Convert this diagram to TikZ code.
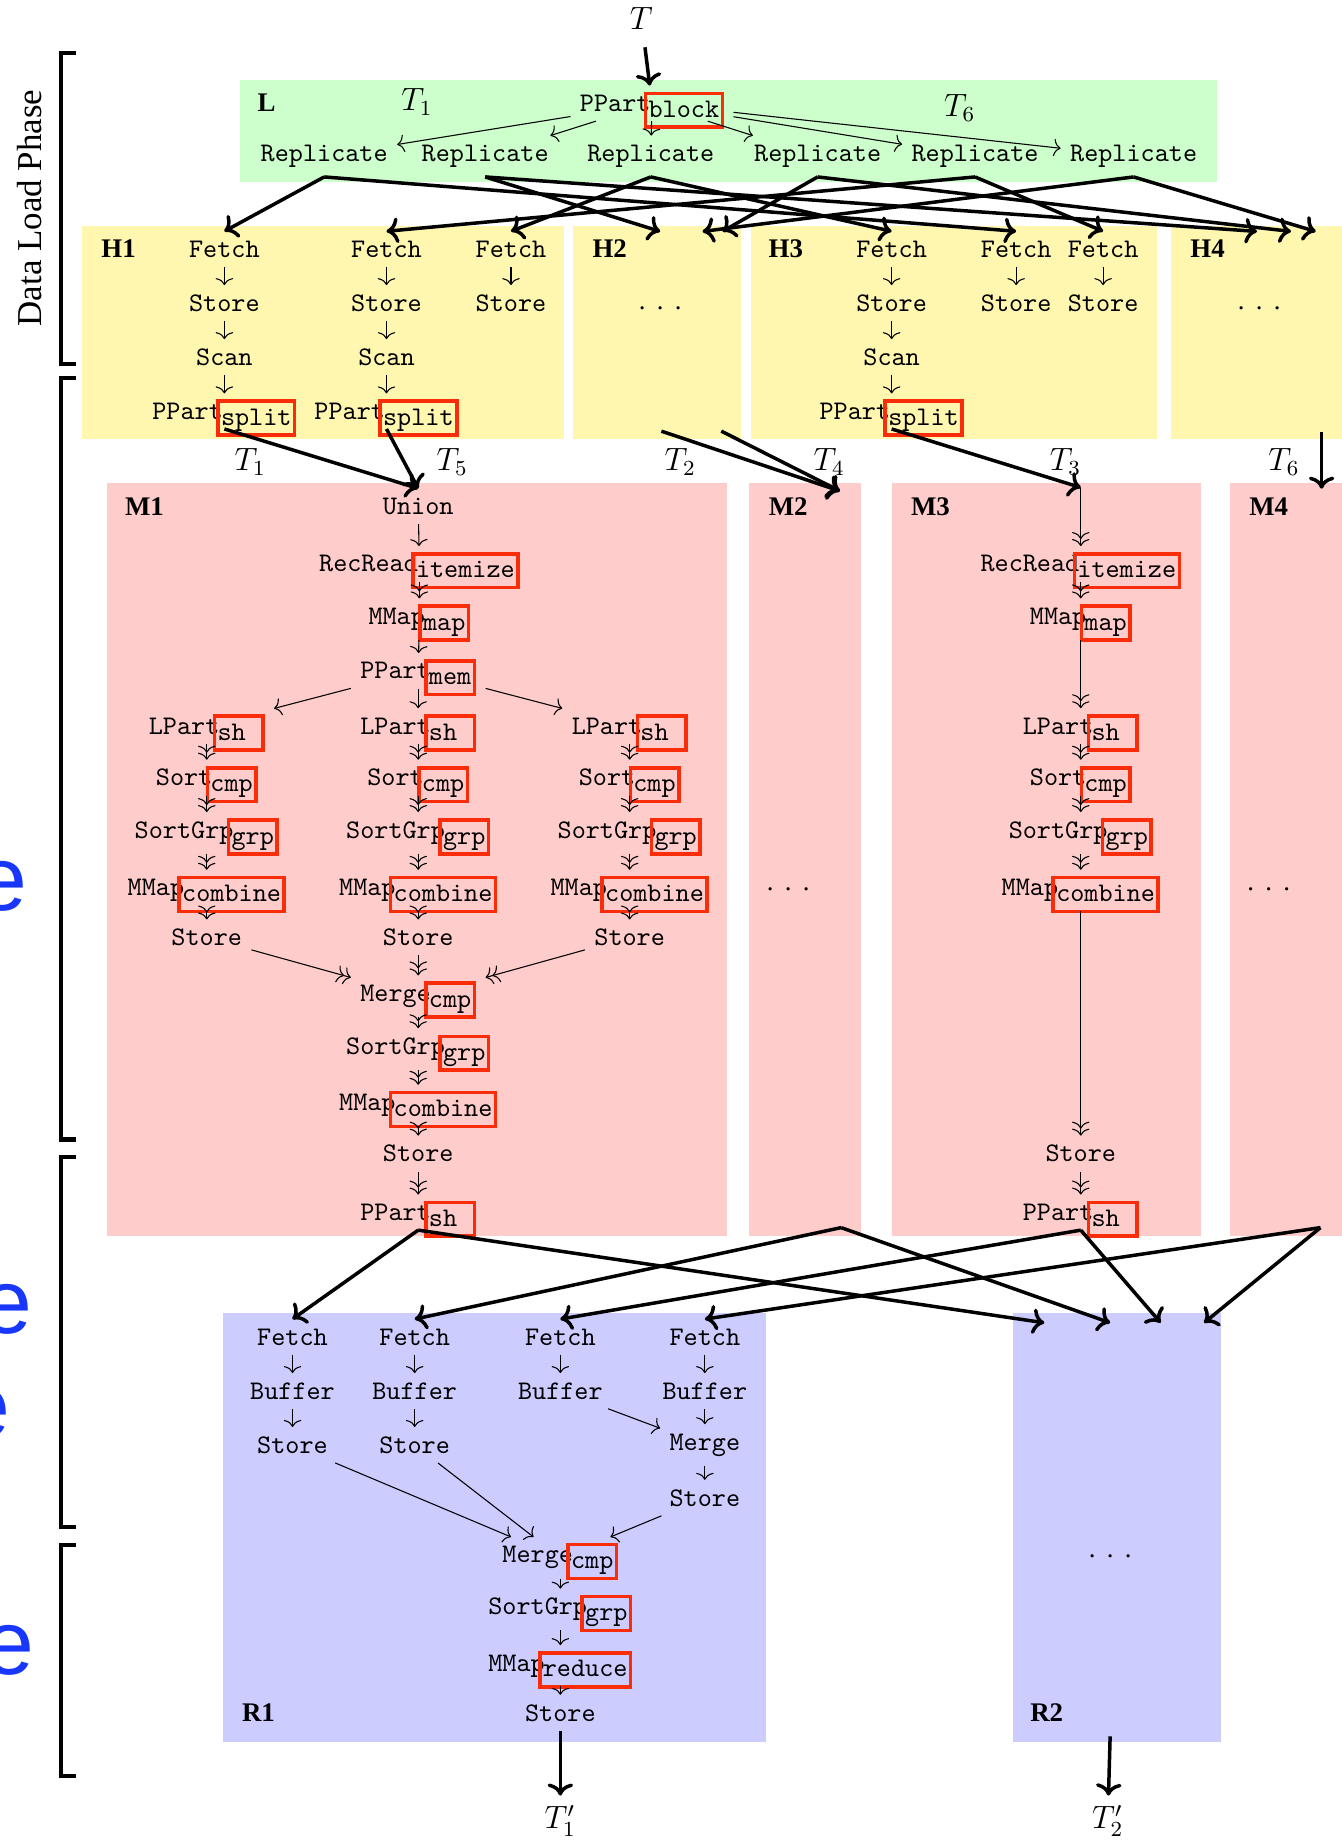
\documentclass[tikz,border=0pt]{standalone}
\usepackage{fontspec}
\setmainfont{Liberation Serif}
\newfontfamily\phasefont{Liberation Sans}
\usepackage{tikz}
\usetikzlibrary{calc,arrows.meta}

\definecolor{udfred}{RGB}{250,45,10}
\definecolor{lgreen}{RGB}{204,255,204}
\definecolor{lyellow}{RGB}{255,247,176}
\definecolor{lpink}{RGB}{255,204,204}
\definecolor{lblue}{RGB}{204,204,255}
\definecolor{phaseblue}{RGB}{25,55,250}

% red frame round a user function, kept out of the node height
\newcommand{\udf}[1]{\kern-2.5pt\smash{\raisebox{-2.2pt}{\textcolor{udfred}{\setlength{\fboxrule}{1.3pt}\setlength{\fboxsep}{0.5pt}\fbox{\textcolor{black}{\rule[-2.5pt]{0pt}{10.3pt}#1}}}}}}
\newcommand{\gap}{.\hspace{4.2pt}.\hspace{4.2pt}.}

\begin{document}
\begin{tikzpicture}[x=0.01537cm,y=-0.01537cm,
        >={To[length=2.6pt,width=6.5pt]},
        op/.style={font=\ttfamily},
        hdr/.style={font=\bfseries},
        tl/.style={font=\large},
        flow/.style={-{To[length=4.5pt,width=9.5pt]},line width=1.3pt},
        phase/.style={line width=1.6pt},
        phasetxt/.style={font=\phasefont\fontsize{34}{36}\selectfont,text=phaseblue,inner sep=0pt,anchor=base east}]
        \useasboundingbox (0,0) rectangle (1142,1568);

        % backgrounds
        \fill[lgreen] (204,68) rectangle (1036,155);
        \fill[lyellow] (70,192) rectangle (480,374);
        \fill[lyellow] (488,192) rectangle (631,374);
        \fill[lyellow] (639,192) rectangle (985,374);
        \fill[lyellow] (997,192) rectangle (1142,374);
        \fill[lpink] (91,411) rectangle (619,1052);
        \fill[lpink] (638,411) rectangle (733,1052);
        \fill[lpink] (759,411) rectangle (1022,1052);
        \fill[lpink] (1047,411) rectangle (1142,1052);
        \fill[lblue] (190,1118) rectangle (652,1483);
        \fill[lblue] (862,1118) rectangle (1039,1483);

        % phases
        \draw[phase] (65,45) -- (52,45) -- (52,310) -- (65,310);
        \draw[phase] (65,322) -- (52,322) -- (52,970) -- (65,970);
        \draw[phase] (65,985) -- (52,985) -- (52,1300) -- (65,1300);
        \draw[phase] (65,1315) -- (52,1315) -- (52,1512) -- (65,1512);
        \node[rotate=90,font=\fontsize{13}{15}\selectfont] (dlp) at (25,177) {Data Load Phase};
        \node[phasetxt] (pe1) at (24,775) {e};
        \node[phasetxt] (pe2) at (28,1135) {e};
        \node[phasetxt] (pe3) at (9,1224) {e};
        \node[phasetxt] (pe4) at (30,1425) {e};

        % L
        \node[hdr] (lL) at (227,87) {L};
        \node[tl] (T) at (546,16) {$T$};
        \node[tl] (tl1) at (355,87) {$T_1$};
        \node[tl] (tl6) at (817,92) {$T_6$};
        \node[op] (lpp) at (555,88) {PPart\udf{block}};
        \node[op] (rep1) at (276,133) {Replicate};
        \node[op] (rep2) at (413,133) {Replicate};
        \node[op] (rep3) at (554,133) {Replicate};
        \node[op] (rep4) at (696,133) {Replicate};
        \node[op] (rep5) at (830,133) {Replicate};
        \node[op] (rep6) at (965,133) {Replicate};
        \draw[flow,shorten <=3pt] (T) -- (lpp);
        \draw[->] (lpp) -- (rep1);
        \draw[->] (lpp) -- (rep2);
        \draw[->] (lpp) -- (rep3);
        \draw[->] (lpp) -- (rep4);
        \draw[->] (lpp) -- (rep5);
        \draw[->] (lpp) -- (rep6);

        % H
        \node[hdr] (lH1) at (101,212) {H1};
        \node[hdr] (lH2) at (519,212) {H2};
        \node[hdr] (lH3) at (669,212) {H3};
        \node[hdr] (lH4) at (1028,212) {H4};
        \node (h2d) at (562,262) {\gap};
        \node (h4d) at (1072,262) {\gap};

        \node[op] (h1f1) at (191,212) {Fetch};
        \node[op] (h1s1) at (191,258) {Store};
        \node[op] (h1c1) at (191,304) {Scan};
        \node[op] (h1p1) at (191,350) {PPart\udf{split}};
        \node[op] (h1f2) at (329,212) {Fetch};
        \node[op] (h1s2) at (329,258) {Store};
        \node[op] (h1c2) at (329,304) {Scan};
        \node[op] (h1p2) at (329,350) {PPart\udf{split}};
        \node[op] (h1f3) at (435,212) {Fetch};
        \node[op] (h1s3) at (435,258) {Store};
        \node[op] (h3f1) at (759,212) {Fetch};
        \node[op] (h3s1) at (759,258) {Store};
        \node[op] (h3c1) at (759,304) {Scan};
        \node[op] (h3p1) at (759,350) {PPart\udf{split}};
        \node[op] (h3f2) at (865,212) {Fetch};
        \node[op] (h3s2) at (865,258) {Store};
        \node[op] (h3f3) at (939,212) {Fetch};
        \node[op] (h3s3) at (939,258) {Store};
        \draw[->] (h1f1) -- (h1s1);
        \draw[->] (h1s1) -- (h1c1);
        \draw[->] (h1c1) -- (h1p1);
        \draw[->] (h1f2) -- (h1s2);
        \draw[->] (h1s2) -- (h1c2);
        \draw[->] (h1c2) -- (h1p2);
        \draw[->] (h1f3) -- (h1s3);
        \draw[->] (h3f1) -- (h3s1);
        \draw[->] (h3s1) -- (h3c1);
        \draw[->] (h3c1) -- (h3p1);
        \draw[->] (h3f2) -- (h3s2);
        \draw[->] (h3f3) -- (h3s3);

        \coordinate (h2t1) at (562,197);
        \coordinate (h2t2) at (598,197);
        \coordinate (h2t3) at (615,197);
        \coordinate (h4t1) at (1070,197);
        \coordinate (h4t2) at (1099,197);
        \coordinate (h4t3) at (1120,197);
        \draw[flow] (rep1.south) -- (h1f1.north);
        \draw[flow] (rep1.south) -- (h3f2.north);
        \draw[flow] (rep2.south) -- (h2t1);
        \draw[flow] (rep2.south) -- (h4t1);
        \draw[flow] (rep3.south) -- (h1f3.north);
        \draw[flow] (rep3.south) -- (h3f1.north);
        \draw[flow] (rep4.south) -- (h2t3);
        \draw[flow] (rep4.south) -- (h4t2);
        \draw[flow] (rep5.south) -- (h1f2.north);
        \draw[flow] (rep5.south) -- (h3f3.north);
        \draw[flow] (rep6.south) -- (h2t2);
        \draw[flow] (rep6.south) -- (h4t3);

        % H -> M
        \node[tl] (tm1) at (213,393) {$T_1$};
        \node[tl] (tm5) at (385,393) {$T_5$};
        \node[tl] (tm2) at (579,393) {$T_2$};
        \node[tl] (tm4) at (706,393) {$T_4$};
        \node[tl] (tm3) at (907,393) {$T_3$};
        \node[tl] (tm6) at (1093,393) {$T_6$};
        \coordinate (h2s1) at (563,367);
        \coordinate (h2s2) at (614,367);
        \coordinate (h4s) at (1125,368);
        \coordinate (m2t) at (715,418);
        \coordinate (m3t) at (920,415);
        \coordinate (m4t) at (1125,416);

        % M1
        \node[hdr] (lM1) at (123,431) {M1};
        \node[hdr] (lM2) at (671,431) {M2};
        \node[hdr] (lM3) at (792,431) {M3};
        \node[hdr] (lM4) at (1080,431) {M4};
        \node (m2d) at (671,757) {\gap};
        \node (m4d) at (1080,757) {\gap};

        \node[op] (mu) at (356,431) {Union};
        \node[op] (mrr) at (357,480) {RecRead\udf{itemize}};
        \node[op] (mmp) at (357,527) {MMap\udf{map}};
        \node[op] (mpp) at (356,571) {PPart\udf{mem}};
        \node[op] (ml1) at (176,618) {LPart\udf{sh~}};
        \node[op] (mso1) at (176,662) {Sort\udf{cmp}};
        \node[op] (mg1) at (176,709) {SortGrp\udf{grp}};
        \node[op] (mc1) at (176,758) {MMap\udf{combine}};
        \node[op] (mst1) at (176,798) {Store};
        \node[op] (ml2) at (356,618) {LPart\udf{sh~}};
        \node[op] (mso2) at (356,662) {Sort\udf{cmp}};
        \node[op] (mg2) at (356,709) {SortGrp\udf{grp}};
        \node[op] (mc2) at (356,758) {MMap\udf{combine}};
        \node[op] (mst2) at (356,798) {Store};
        \node[op] (ml3) at (536,618) {LPart\udf{sh~}};
        \node[op] (mso3) at (536,662) {Sort\udf{cmp}};
        \node[op] (mg3) at (536,709) {SortGrp\udf{grp}};
        \node[op] (mc3) at (536,758) {MMap\udf{combine}};
        \node[op] (mst3) at (536,798) {Store};
        \node[op] (mme) at (356,848) {Merge\udf{cmp}};
        \node[op] (msg) at (356,893) {SortGrp\udf{grp}};
        \node[op] (mcb) at (356,941) {MMap\udf{combine}};
        \node[op] (mst) at (356,982) {Store};
        \node[op] (mps) at (356,1032) {PPart\udf{sh~}};
        \draw[->] (mu) -- (mrr);
        \draw[->>] (mrr) -- (mmp);
        \draw[->] (mmp) -- (mpp);
        \draw[->] (mpp) -- (ml1);
        \draw[->] (mpp) -- (ml2);
        \draw[->] (mpp) -- (ml3);
        \draw[->>] (ml1) -- (mso1);
        \draw[->>] (mso1) -- (mg1);
        \draw[->>] (mg1) -- (mc1);
        \draw[->>] (mc1) -- (mst1);
        \draw[->>] (ml2) -- (mso2);
        \draw[->>] (mso2) -- (mg2);
        \draw[->>] (mg2) -- (mc2);
        \draw[->>] (mc2) -- (mst2);
        \draw[->>] (ml3) -- (mso3);
        \draw[->>] (mso3) -- (mg3);
        \draw[->>] (mg3) -- (mc3);
        \draw[->>] (mc3) -- (mst3);
        \draw[->>] (mst1) -- (mme);
        \draw[->>] (mst2) -- (mme);
        \draw[->>] (mst3) -- (mme);
        \draw[->>] (mme) -- (msg);
        \draw[->>] (msg) -- (mcb);
        \draw[->>] (mcb) -- (mst);
        \draw[->>] (mst) -- (mps);

        % M3
        \node[op] (n3rr) at (920,480) {RecRead\udf{itemize}};
        \node[op] (n3mp) at (920,527) {MMap\udf{map}};
        \node[op] (n3l) at (920,618) {LPart\udf{sh~}};
        \node[op] (n3so) at (920,662) {Sort\udf{cmp}};
        \node[op] (n3g) at (920,709) {SortGrp\udf{grp}};
        \node[op] (n3c) at (920,758) {MMap\udf{combine}};
        \node[op] (n3st) at (920,982) {Store};
        \node[op] (n3ps) at (920,1032) {PPart\udf{sh~}};
        \draw[->>] (m3t) -- (n3rr);
        \draw[->>] (n3rr) -- (n3mp);
        \draw[->>] (n3mp) -- (n3l);
        \draw[->>] (n3l) -- (n3so);
        \draw[->>] (n3so) -- (n3g);
        \draw[->>] (n3g) -- (n3c);
        \draw[->>] (n3c) -- (n3st);
        \draw[->>] (n3st) -- (n3ps);

        \draw[flow] (h1p1.south) -- (mu.north);
        \draw[flow] (h1p2.south) -- (mu.north);
        \draw[flow] (h2s1) -- (m2t);
        \draw[flow] (h2s2) -- (m2t);
        \draw[flow] (h3p1.south) -- (m3t);
        \draw[flow] (h4s) -- (m4t);

        % R1
        \node[hdr] (lR1) at (220,1458) {R1};
        \node[hdr] (lR2) at (891,1458) {R2};
        \node (r2dots) at (945,1325) {\gap};
        \node[op] (rf1) at (249,1138) {Fetch};
        \node[op] (rb1) at (249,1184) {Buffer};
        \node[op] (rs1) at (249,1230) {Store};
        \node[op] (rf2) at (353,1138) {Fetch};
        \node[op] (rb2) at (353,1184) {Buffer};
        \node[op] (rs2) at (353,1230) {Store};
        \node[op] (rf3) at (477,1138) {Fetch};
        \node[op] (rb3) at (477,1184) {Buffer};
        \node[op] (rf4) at (600,1138) {Fetch};
        \node[op] (rb4) at (600,1184) {Buffer};
        \node[op] (rm4) at (600,1230) {Merge};
        \node[op] (rs4) at (600,1275) {Store};
        \node[op] (rme) at (477,1326) {Merge\udf{cmp}};
        \node[op] (rsg) at (477,1370) {SortGrp\udf{grp}};
        \node[op] (rmm) at (477,1418) {MMap\udf{reduce}};
        \node[op] (rst) at (477,1458) {Store};
        \draw[->] (rf1) -- (rb1);
        \draw[->] (rb1) -- (rs1);
        \draw[->] (rf2) -- (rb2);
        \draw[->] (rb2) -- (rs2);
        \draw[->] (rf3) -- (rb3);
        \draw[->] (rb3) -- (rm4);
        \draw[->] (rf4) -- (rb4);
        \draw[->] (rb4) -- (rm4);
        \draw[->] (rm4) -- (rs4);
        \draw[->] (rs1) -- (rme);
        \draw[->] (rs2) -- (rme);
        \draw[->] (rs4) -- (rme);
        \draw[->] (rme) -- (rsg);
        \draw[->] (rsg) -- (rmm);
        \draw[->] (rmm) -- (rst);

        % M -> R
        \coordinate (m2s) at (716,1045);
        \coordinate (m4s) at (1124,1045);
        \coordinate (r2a) at (889,1126);
        \coordinate (r2b) at (945,1126);
        \coordinate (r2c) at (988,1126);
        \coordinate (r2d) at (1025,1126);
        \draw[flow] (mps.south) -- (rf1.north);
        \draw[flow] (mps.south) -- (r2a);
        \draw[flow] (m2s) -- (rf2.north);
        \draw[flow] (m2s) -- (r2b);
        \draw[flow] (n3ps.south) -- (rf3.north);
        \draw[flow] (n3ps.south) -- (r2c);
        \draw[flow] (m4s) -- (rf4.north);
        \draw[flow] (m4s) -- (r2d);

        % out
        \node[tl] (t1p) at (477,1550) {$T'_1$};
        \node[tl] (t2p) at (943,1550) {$T'_2$};
        \coordinate (r2s) at (945,1478);
        \draw[flow] (rst) -- (t1p);
        \draw[flow] (r2s) -- (t2p);
\end{tikzpicture}
\end{document}
